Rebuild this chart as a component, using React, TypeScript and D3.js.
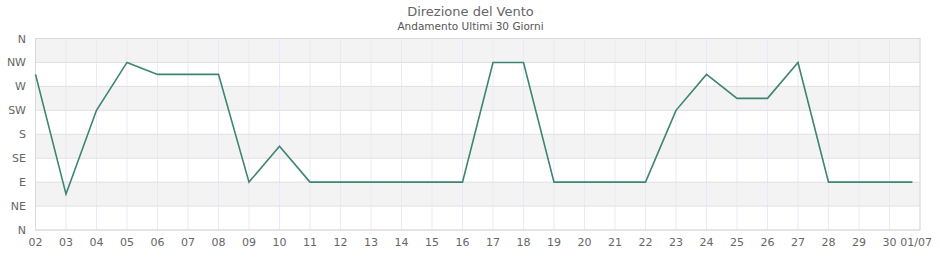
import React from "react";
import * as d3 from "d3";

// Day offsets from the first day shown (the last reading is taken late on the final day)
const dayOffsets: number[] = [
  0, 1, 2, 3, 4, 5, 6, 7, 8, 9, 10, 11, 12, 13, 14, 15, 16, 17, 18, 19, 20, 21, 22, 23, 24, 25, 26, 27, 28, 28.75,
];
// Wind direction in degrees
const directions: number[] = [
  292.5, 67.5, 225, 315, 292.5, 292.5, 292.5, 90, 157.5, 90, 90, 90, 90, 90, 90, 315, 315, 90, 90, 90, 90, 225,
  292.5, 247.5, 247.5, 315, 90, 90, 90, 90,
];
const dayLabels: string[] = [
  "02", "03", "04", "05", "06", "07", "08", "09", "10", "11", "12", "13", "14", "15", "16", "17", "18", "19", "20",
  "21", "22", "23", "24", "25", "26", "27", "28", "29", "30", "01/07",
];
const compassLabels: string[] = ["N", "NE", "E", "SE", "S", "SW", "W", "NW", "N"];
const compassDegrees: number[] = [0, 45, 90, 135, 180, 225, 270, 315, 360];
const shadedBands: [number, number][] = [
  [45, 90],
  [135, 180],
  [225, 270],
  [315, 360],
];

const W = 940;
const H = 260;
const M = { left: 35.5, right: 20, top: 38.5, bottom: 30 };
const FONT = "'DejaVu Sans', sans-serif";

export default function App() {
  const xs = d3.scaleLinear().domain([0, dayLabels.length - 1]).range([M.left, W - M.right]);
  const y = d3.scaleLinear().domain([0, 360]).range([H - M.bottom, M.top]);
  const points: [number, number][] = dayOffsets.map((d, i) => [d, directions[i]]);
  const line = d3
    .line<[number, number]>()
    .x((d) => xs(d[0]))
    .y((d) => y(d[1]));
  const x0 = xs(0);
  const x1 = xs(dayLabels.length - 1);

  return (
    <svg width={W} height={H} style={{ display: "block", position: "absolute", left: 0, top: 0 }}>
      <rect x={0} y={0} width={W} height={H} fill="#fff" />
      <text x={W / 2 + 0.5} y={16} textAnchor="middle" fontFamily={FONT} fontSize={13} fill="#666">
        Direzione del Vento
      </text>
      <text x={W / 2 + 0.5} y={30} textAnchor="middle" fontFamily={FONT} fontSize={10.5} fill="#555">
        Andamento Ultimi 30 Giorni
      </text>

      {shadedBands.map(([a, b], i) => (
        <rect key={i} x={x0} y={y(b)} width={x1 - x0} height={y(a) - y(b)} fill="#f3f3f3" />
      ))}

      {dayLabels.map((_, i) => (
        <line key={i} x1={xs(i)} x2={xs(i)} y1={y(360)} y2={y(0)} stroke="#ebe9f7" strokeWidth={1} />
      ))}
      {compassDegrees.map((d, i) => (
        <line key={i} x1={x0} x2={x1} y1={y(d)} y2={y(d)} stroke="#e0e0e0" strokeWidth={1} />
      ))}
      <rect x={x0} y={y(360)} width={x1 - x0} height={y(0) - y(360)} fill="none" stroke="#dadada" strokeWidth={1} />

      {compassLabels.map((l, i) => (
        <text key={i} x={26} y={y(compassDegrees[i]) + 4} textAnchor="end" fontFamily={FONT} fontSize={11} fill="#666">
          {l}
        </text>
      ))}
      {dayLabels.map((l, i) => {
        const last = i === dayLabels.length - 1;
        return (
          <text
            key={i}
            x={last ? W - 8 : xs(i)}
            y={246}
            textAnchor={last ? "end" : "middle"}
            fontFamily={FONT}
            fontSize={11}
            fill="#666"
          >
            {l}
          </text>
        );
      })}

      <path d={line(points) ?? ""} fill="none" stroke="#3d8570" strokeWidth={1.6} strokeLinejoin="miter" />
    </svg>
  );
}
